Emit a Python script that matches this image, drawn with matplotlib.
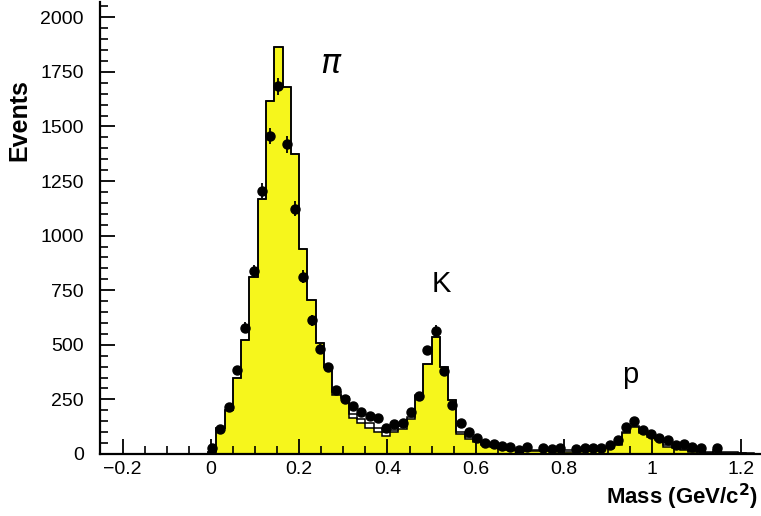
import numpy as np
import matplotlib
matplotlib.use('Agg')
import matplotlib.pyplot as plt
from matplotlib.ticker import MultipleLocator, FuncFormatter

plt.rcParams['font.family'] = ['Liberation Sans', 'DejaVu Sans']

# 80 bins over [-0.25, 1.25]; values below start at bin 13
first_bin = 13
bin_width = 0.01875

# MC, yellow filled histogram
mc_fill = [10, 120, 200, 349, 522, 812, 1166, 1618, 1866, 1682,
           1374, 940, 706, 510, 397, 272, 255, 163, 140, 121,
           101, 82, 100, 116, 160, 265, 411, 534, 400, 245,
           92, 70, 54, 41, 34, 22, 18, 17, 15, 14,
           13, 12, 12, 10, 11, 12, 14, 17, 26, 42,
           95, 125, 95, 80, 65, 34, 27, 16, 11, 9,
           6, 10, 6, 4, 3, 2, 1]

# MC total, open histogram
mc_total = [10, 120, 200, 349, 522, 812, 1166, 1618, 1866, 1682,
            1374, 940, 706, 510, 397, 285, 262, 185, 160, 140,
            120, 102, 112, 128, 168, 270, 411, 534, 400, 245,
            100, 76, 58, 46, 38, 28, 24, 22, 20, 19,
            18, 17, 17, 20, 16, 17, 19, 22, 30, 46,
            100, 130, 100, 85, 68, 42, 32, 22, 15, 13,
            10, 18, 10, 7, 5, 3, 2]

# data points (nan = empty bin)
nan = np.nan
data = [26, 113, 217, 385, 579, 838, 1206, 1456, 1683, 1418,
        1123, 812, 613, 481, 398, 293, 251, 218, 191, 172,
        165, 121, 137, 143, 191, 267, 474, 565, 378, 224,
        140, 99, 72, 52, 46, 36, 32, 20, 33, nan,
        28, 21, 27, nan, 21, 26, 29, 29, 41, 63,
        122, 150, 110, 91, 72, 62, 41, 45, 30, 27,
        nan, 28, nan, nan, nan, nan, nan]

edges = -0.25 + bin_width * np.arange(first_bin, first_bin + len(mc_fill) + 1)
centers = 0.5 * (edges[:-1] + edges[1:])
data = np.array(data, dtype=float)

fig = plt.figure(figsize=(7.61, 5.16), dpi=100)
ax = fig.add_axes([0.132, 0.1202, 0.8703, 0.876])

ax.stairs(mc_fill, edges, fill=True, color='#f6f61c', zorder=1)
ax.stairs(mc_fill, edges, color='black', linewidth=1.1, zorder=2)
ax.stairs(mc_total, edges, color='black', linewidth=1.1, zorder=2)

ok = ~np.isnan(data)
ax.errorbar(centers[ok], data[ok], yerr=np.sqrt(data[ok]), fmt='o',
            color='black', ms=6.5, elinewidth=1.3, capsize=0, zorder=3)

ax.set_xlim(-0.25, 1.25)
ax.set_ylim(0, 2070)

for s in ['top', 'right']:
    ax.spines[s].set_visible(False)
for s in ['left', 'bottom']:
    ax.spines[s].set_linewidth(1.6)

ax.xaxis.set_major_locator(MultipleLocator(0.2))
ax.xaxis.set_minor_locator(MultipleLocator(0.05))
ax.yaxis.set_major_locator(MultipleLocator(250))
ax.yaxis.set_minor_locator(MultipleLocator(50))
ax.xaxis.set_major_formatter(FuncFormatter(lambda v, p: ('%g' % round(v, 3)).replace('-', '\u2212')))
ax.tick_params(which='major', direction='in', length=11, width=1.3,
               labelsize=14, top=False, right=False)
ax.tick_params(which='minor', direction='in', length=5.5, width=1.2,
               top=False, right=False)
ax.tick_params(axis='y', pad=12)
ax.tick_params(axis='x', pad=5)

ax.text(0.2726, 1745, r'$\pi$', fontsize=24, ha='center', va='baseline')
ax.text(0.523, 742, 'K', fontsize=21, ha='center', va='baseline')
ax.text(0.9495, 325, 'p', fontsize=21, ha='center', va='baseline')

fig.text(0.025, 0.767, 'Events', rotation=90, fontsize=18, fontweight='bold',
         ha='center', va='center')
fig.text(0.996, 0.022, 'Mass (GeV/c$^{\\mathbf{2}}$)', fontsize=16, fontweight='bold',
         ha='right', va='baseline')

fig.savefig('out.png', dpi=100)
